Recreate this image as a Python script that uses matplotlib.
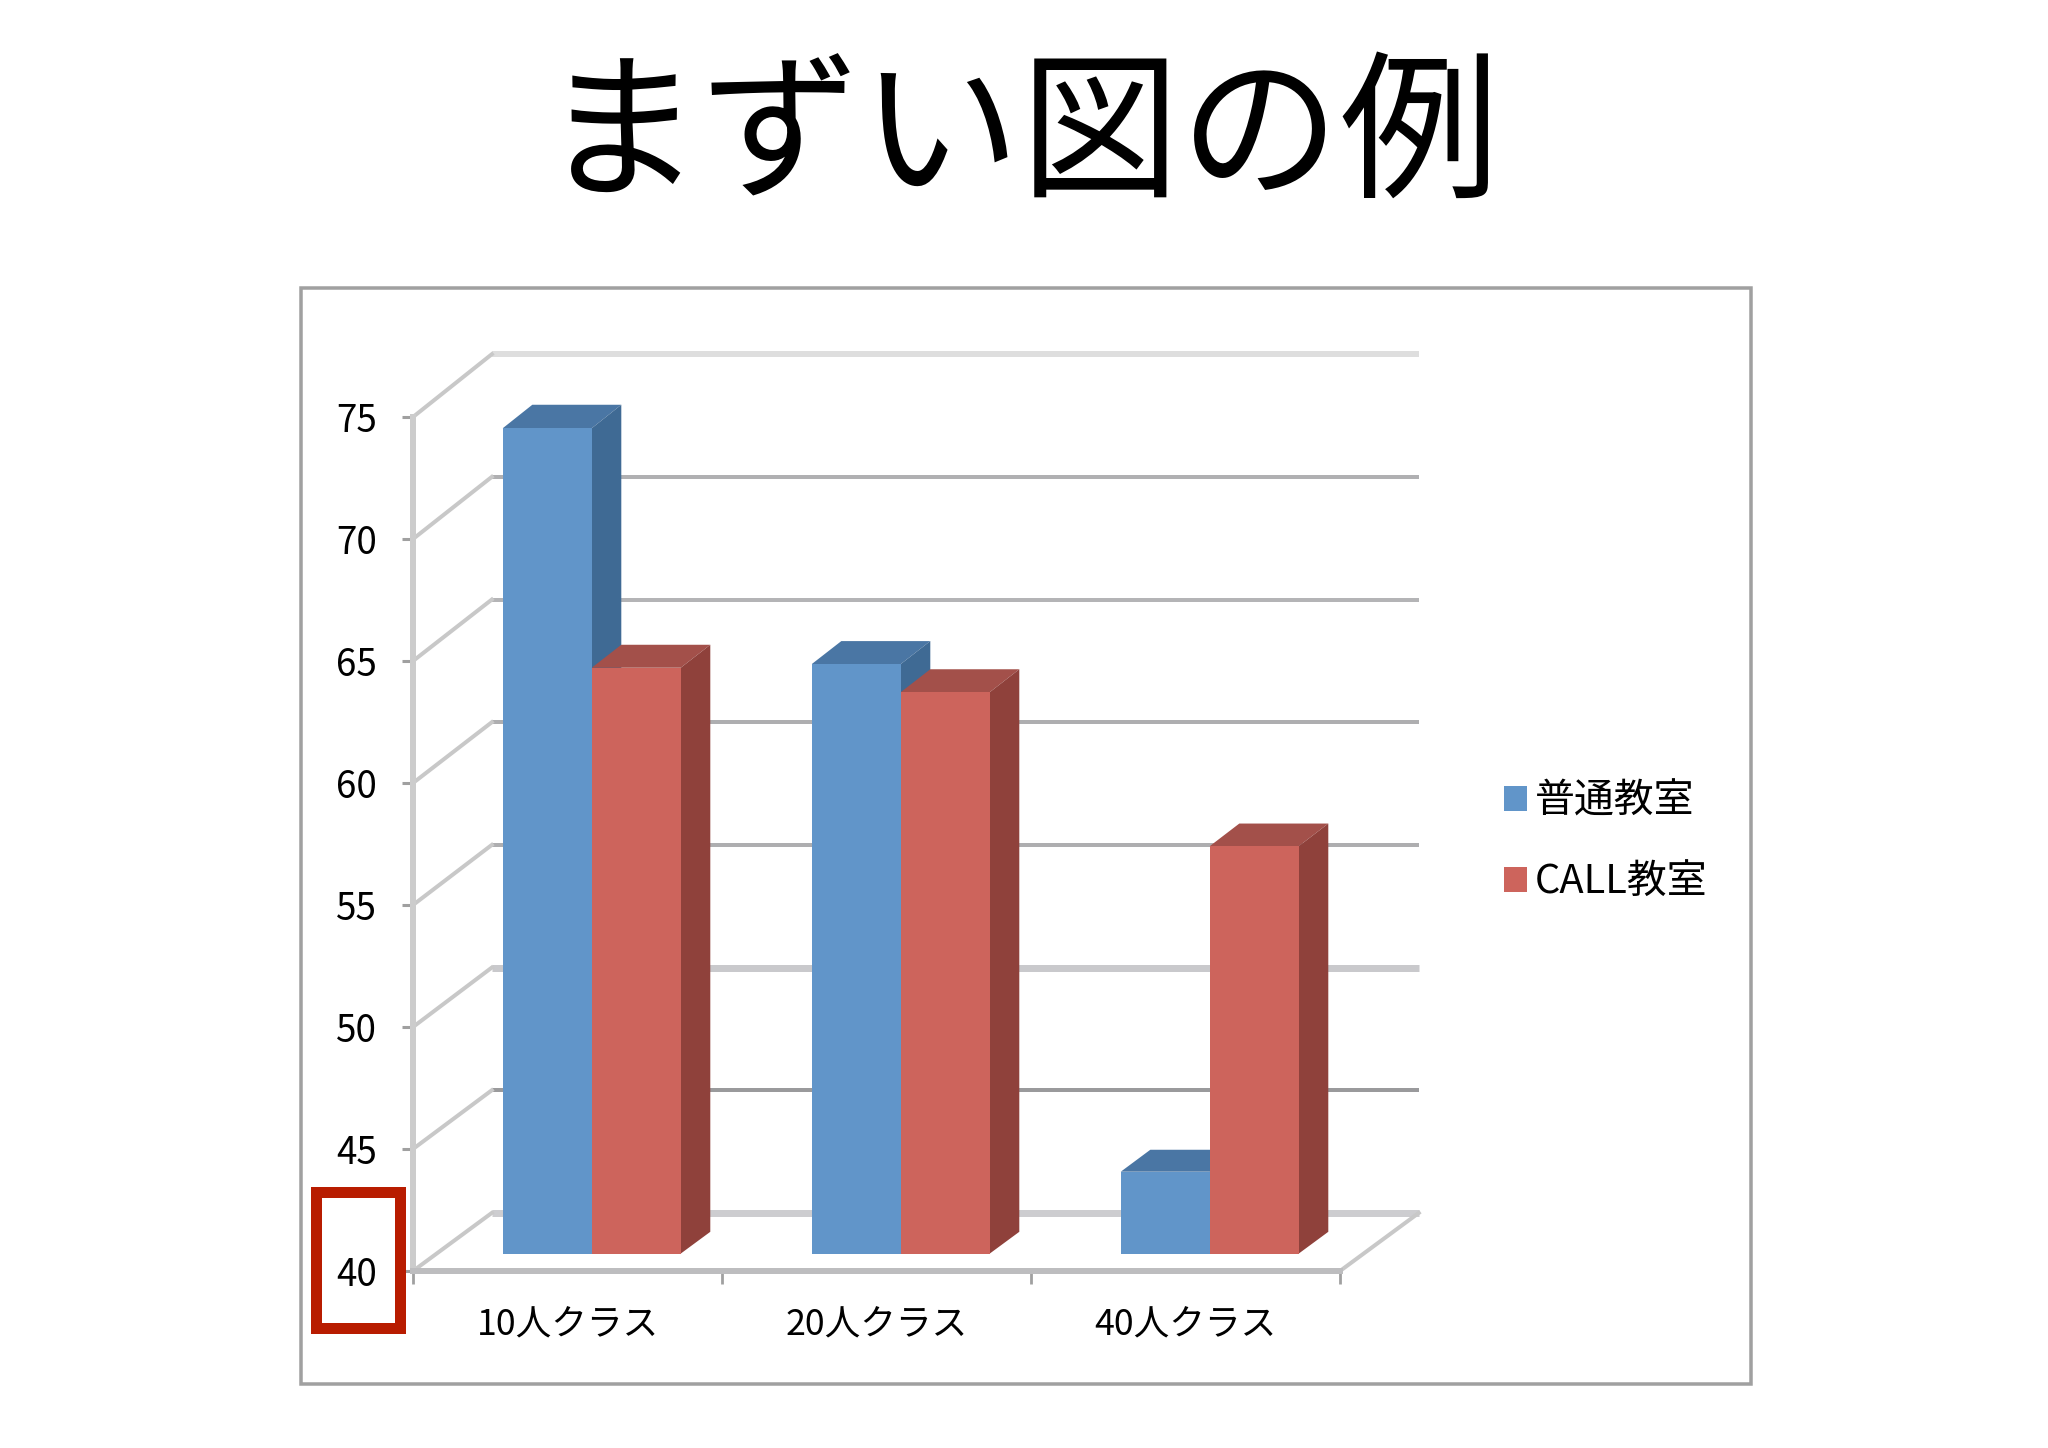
import matplotlib
matplotlib.use("Agg")
import matplotlib.pyplot as plt
from matplotlib.patches import Polygon, Rectangle

plt.rcParams['font.family'] = ['Noto Sans CJK JP', 'DejaVu Sans']

title = "まずい図の例"
categories = ["10人クラス", "20人クラス", "40人クラス"]
y_ticks = [40, 45, 50, 55, 60, 65, 70, 75]
series_names = ["普通教室", "CALL教室"]
normal_room = [73.77, 64.12, 43.35]
call_room = [63.97, 62.97, 56.67]

W, H = 2048, 1448
# depth projection (category units / value units per full depth)
DX = 0.255
DY0, DY_SLOPE = 2.38, 0.0055
BAR_D0, BAR_D1 = 0.30, 0.675
BAR_W = 0.288
BAR_SHIFT = 0.502

def proj(x, v, d):
    return (x + d * DX, v + d * (DY0 + (v - 40) * DY_SLOPE))

fig = plt.figure(figsize=(W / 100, H / 100), dpi=100, facecolor='white')
X0, X1, Y40, Y75 = 413, 1340, 1271, 417
ax = fig.add_axes([X0 / W, 1 - Y40 / H, (X1 - X0) / W, (Y40 - Y75) / H])
ax.set_xlim(0, 3)
ax.set_ylim(40, 75)
ax.patch.set_visible(False)

grid_colors = ['#cdcdd0', '#9a9a9c', '#c9c9cc', '#aeaeb0', '#aeaeb0', '#b4b4b6', '#b0b0b2', '#dedede']
grid_widths = [7, 4, 7, 4, 4, 4, 4, 6]
for v, c, lw in zip(y_ticks, grid_colors, grid_widths):
    a = proj(0, v, 0)
    b = proj(0, v, 1)
    e = proj(3, v, 1)
    ax.plot([b[0], e[0]], [b[1], e[1]], color=c, lw=lw * 0.72, clip_on=False, zorder=1, solid_capstyle='butt')
    ax.plot([a[0], b[0]], [a[1], b[1]], color='#c8c8c8', lw=4 * 0.72, clip_on=False, zorder=1)
a, b = proj(3, 40, 0), proj(3, 40, 1)
ax.plot([a[0], b[0]], [a[1], b[1]], color='#c8c8c8', lw=4 * 0.72, clip_on=False, zorder=1)

colors = [dict(front='#6195c9', side='#3f6a94', top='#4a76a4'),
          dict(front='#cd645c', side='#8f413b', top='#a3504a')]
handles = []
for i, (values, col, name) in enumerate(zip([normal_room, call_room], colors, series_names)):
    for j, v in enumerate(values):
        xl = j + BAR_SHIFT - BAR_W + i * BAR_W
        xr = xl + BAR_W
        top = [proj(xl, v, BAR_D0), proj(xr, v, BAR_D0), proj(xr, v, BAR_D1), proj(xl, v, BAR_D1)]
        side = [proj(xr, 40, BAR_D0), proj(xr, v, BAR_D0), proj(xr, v, BAR_D1), proj(xr, 40, BAR_D1)]
        front = [proj(xl, 40, BAR_D0), proj(xr, 40, BAR_D0), proj(xr, v, BAR_D0), proj(xl, v, BAR_D0)]
        z = 3 + i + j * 2
        ax.add_patch(Polygon(top, closed=True, fc=col['top'], ec='none', clip_on=False, zorder=z))
        ax.add_patch(Polygon(side, closed=True, fc=col['side'], ec='none', clip_on=False, zorder=z))
        ax.add_patch(Polygon(front, closed=True, fc=col['front'], ec='none', clip_on=False, zorder=z + 0.5))
    handles.append(Rectangle((0, 0), 1, 1, fc=col['front'], ec='none', label=name))

for s in ['top', 'right']:
    ax.spines[s].set_visible(False)
ax.spines['left'].set(color='#cccccc', linewidth=6 * 0.72)
ax.spines['bottom'].set(color='#bdbdbf', linewidth=6 * 0.72)

ax.set_yticks(y_ticks)
ax.set_yticklabels([str(v) for v in y_ticks])
ax.tick_params(axis='y', length=8, width=2.2, color='#a0a0a0', labelsize=26.5, pad=18)
ax.set_xticks([0, 1, 2, 3])
ax.set_xticklabels([])
ax.set_xticks([0.5, 1.5, 2.5], minor=True)
ax.set_xticklabels(categories, minor=True)
ax.tick_params(axis='x', which='major', length=9, width=2, color='#a0a0a0')
ax.tick_params(axis='x', which='minor', length=0, labelsize=25.7, pad=26)

fig.text(1021 / W, 1 - 139 / H, title, ha='center', va='center', fontsize=115, color='black')

ax.legend(handles=handles, loc='upper left', frameon=False, fontsize=28.7,
          bbox_to_anchor=(1468 / W, 1 - 746 / H), bbox_transform=fig.transFigure,
          handlelength=0.57, handleheight=0.6, handletextpad=0.2, labelspacing=1.02)

fig.add_artist(Rectangle((301 / W, 1 - 1384 / H), (1751 - 301) / W, (1384 - 288) / H,
                         transform=fig.transFigure, fill=False, ec='#a0a0a0', lw=3.5 * 0.72))
fig.add_artist(Rectangle((316 / W, 1 - 1328 / H), (400 - 316) / W, (1328 - 1192) / H,
                         transform=fig.transFigure, fill=False, ec='#b81c00', lw=11 * 0.72, joinstyle='miter', zorder=10))

fig.savefig('out.png', dpi=100, facecolor='white')
